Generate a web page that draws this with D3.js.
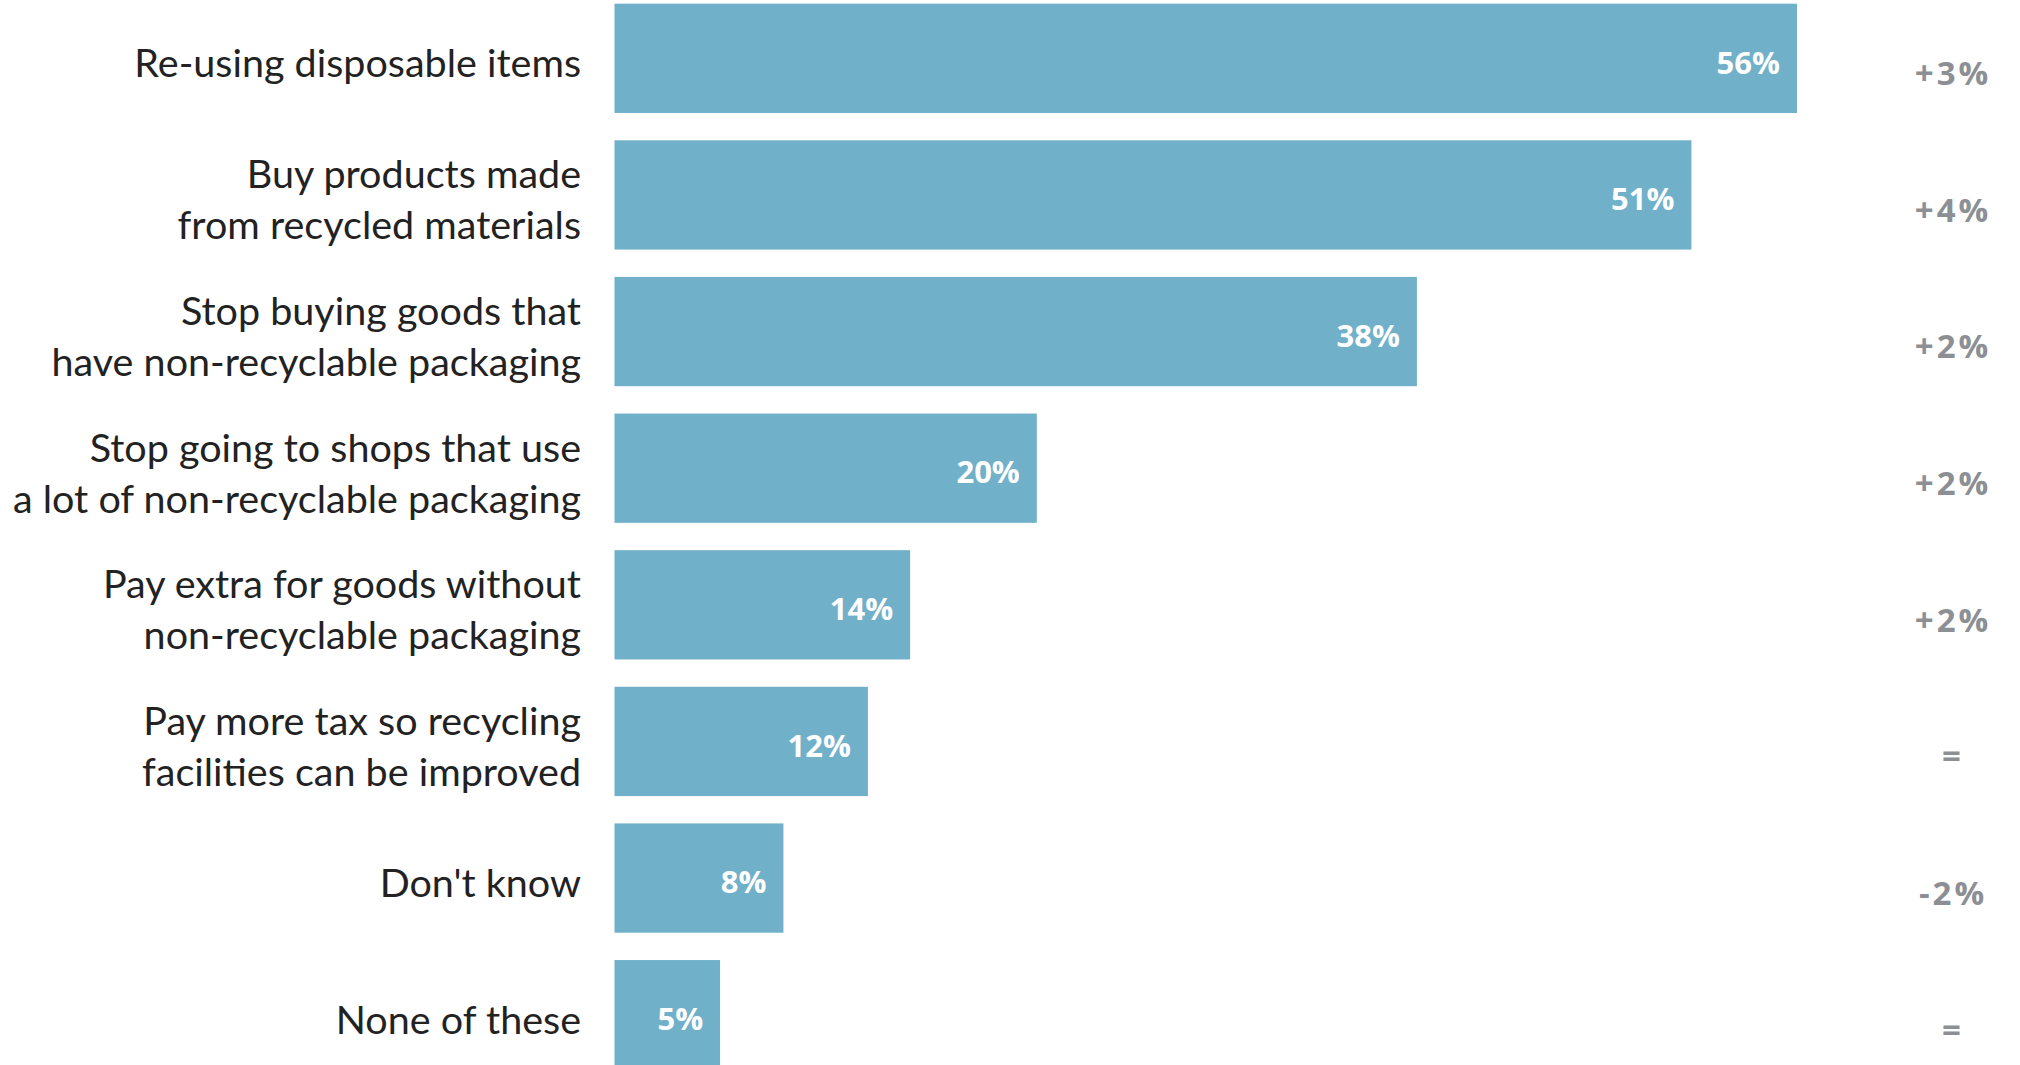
<!DOCTYPE html>
<html>
<head>
<meta charset="utf-8">
<script src="https://cdn.jsdelivr.net/npm/d3@7"></script>
<style>
  body { margin: 0; background: #fff; }
  svg { display: block; }
</style>
</head>
<body>
<div id="chart"></div>
<script>
const categories = [
  "Re-using disposable items",
  "Buy products made\nfrom recycled materials",
  "Stop buying goods that\nhave non-recyclable packaging",
  "Stop going to shops that use\na lot of non-recyclable packaging",
  "Pay extra for goods without\nnon-recyclable packaging",
  "Pay more tax so recycling\nfacilities can be improved",
  "Don't know",
  "None of these"
];
const values = [56, 51, 38, 20, 14, 12, 8, 5];
const changes = ["+3%", "+4%", "+2%", "+2%", "+2%", "=", "-2%", "="];

const width = 2020, height = 1065;
const barColor = "#71b0c9";

const svg = d3.select("#chart")
  .append("svg")
  .attr("width", width)
  .attr("height", height);

const x = d3.scaleLinear().domain([0, 56]).range([614.5, 1797]);
const y = d3.scaleBand()
  .domain(categories)
  .range([-10, 1083])
  .paddingInner(0.2)
  .paddingOuter(0.1);

const rows = categories.map((c, i) => ({ cat: c, value: values[i], change: changes[i] }));

// bars
svg.selectAll("rect.bar")
  .data(rows)
  .enter()
  .append("rect")
  .attr("class", "bar")
  .attr("x", x(0))
  .attr("y", d => y(d.cat))
  .attr("width", d => x(d.value) - x(0))
  .attr("height", y.bandwidth())
  .attr("fill", barColor);

// value labels inside bars
svg.selectAll("text.value")
  .data(rows)
  .enter()
  .append("text")
  .attr("class", "value")
  .attr("x", d => x(d.value) - 17)
  .attr("y", d => y(d.cat) + y.bandwidth() / 2 + 7)
  .attr("text-anchor", "end")
  .attr("dominant-baseline", "middle")
  .attr("font-family", "'Open Sans', sans-serif")
  .attr("font-weight", "bold")
  .attr("font-size", 31)
  .attr("fill", "#fff")
  .text(d => d.value + "%");

// category labels (may be two lines)
const lineH = 51;
svg.selectAll("text.cat")
  .data(rows)
  .enter()
  .append("text")
  .attr("class", "cat")
  .attr("text-anchor", "end")
  .attr("font-family", "Lato, sans-serif")
  .attr("font-size", 39.5)
  .attr("fill", "#222")
  .each(function (d) {
    const lines = d.cat.split("\n");
    const cy = y(d.cat) + y.bandwidth() / 2 + 9;
    const top = cy - (lines.length - 1) * lineH / 2;
    lines.forEach((line, k) => {
      d3.select(this).append("tspan")
        .attr("x", 581)
        .attr("y", top + k * lineH)
        .attr("dominant-baseline", "middle")
        .text(line);
    });
  });

// change column
svg.selectAll("text.change")
  .data(rows)
  .enter()
  .append("text")
  .attr("class", "change")
  .attr("x", 1953)
  .attr("y", d => y(d.cat) + y.bandwidth() / 2 + 18)
  .attr("text-anchor", "middle")
  .attr("dominant-baseline", "middle")
  .attr("font-family", "'Open Sans', sans-serif")
  .attr("font-weight", "bold")
  .attr("font-size", 33)
  .attr("letter-spacing", 3)
  .attr("fill", "#8c8f93")
  .text(d => d.change);
</script>
</body>
</html>
